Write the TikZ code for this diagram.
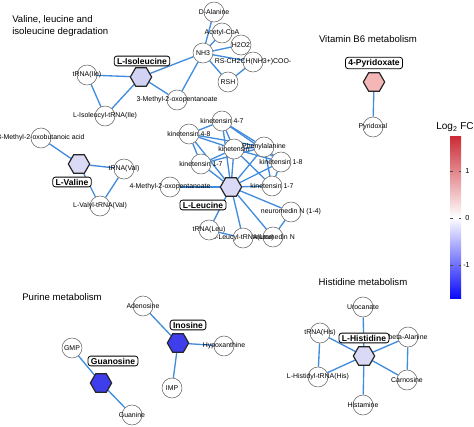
\documentclass[tikz,border=0pt]{standalone}
\usepackage{fontspec}
\setmainfont{Liberation Sans}
\usetikzlibrary{shapes.geometric,backgrounds}
\definecolor{edgeblue}{RGB}{66,140,222}
\definecolor{lav}{RGB}{218,218,247}
\definecolor{lavb}{RGB}{210,210,245}
\definecolor{pinkfc}{RGB}{245,182,182}
\definecolor{bluefc}{RGB}{62,62,236}
\definecolor{barred}{RGB}{205,45,55}
\definecolor{barblue}{RGB}{10,10,250}
\tikzset{
  met/.style={circle,draw=black!60,line width=0.4pt,fill=white,minimum size=15pt,inner sep=0pt},
  mlab/.style={font=\fontsize{5.2}{6}\selectfont,inner sep=0pt},
  hexn/.style={regular polygon,regular polygon sides=6,draw=black!85,line width=0.9pt,minimum size=16pt,inner sep=0pt},
  namebox/.style={draw=black,line width=0.6pt,rounded corners=2pt,fill=white,font=\fontsize{6.4}{7}\selectfont\bfseries,inner xsep=2.2pt,inner ysep=1.3pt},
  ttl/.style={font=\fontsize{7.2}{9}\selectfont,align=left,inner sep=0pt},
  link/.style={draw=edgeblue,line width=1pt},
  ticklab/.style={font=\fontsize{5.5}{6}\selectfont,inner sep=0pt,anchor=west},
}
\begin{document}
\begin{tikzpicture}[x=0.75pt,y=-0.75pt]
\useasboundingbox (0,0) rectangle (474,427);
% titles
\node[ttl,anchor=west] (t1) at (12,26) {Valine, leucine and\\isoleucine degradation};
\node[ttl] (t2) at (368,39) {Vitamin B6 metabolism};
\node[ttl,anchor=west] (t3) at (22,297) {Purine metabolism};
\node[ttl] (t4) at (363,282) {Histidine metabolism};

% ---------- isoleucine ----------
\node[hexn,fill=lavb] (ile) at (141,77) {};
\node[namebox] (ileb) at (142,61) {L-Isoleucine};
\node[met,label={[mlab]center:tRNA(Ile)}] (tile) at (87,75) {};
\node[met,label={[mlab]center:L-Isoleucyl-tRNA(Ile)}] (ilet) at (105,116) {};
\node[met,label={[mlab]center:3-Methyl-2-oxopentanoate}] (mop) at (177,100) {};
\node[met,label={[mlab]center:NH3}] (nh3) at (203,53) {};
\node[met,label={[mlab]center:D-Alanine}] (dala) at (214,12) {};
\node[met,label={[mlab]center:Acetyl-CoA}] (acoa) at (222,33) {};
\node[met,label={[mlab]center:H2O2}] (hoo) at (241,45) {};
\node[met,label={[mlab]center:RS-CH2CH(NH3+)COO-}] (rs) at (253,62) {};
\node[met,label={[mlab]center:RSH}] (rsh) at (228,82) {};

% ---------- valine ----------
\node[hexn,fill=lav] (val) at (79,164) {};
\node[met,label={[mlab]center:3-Methyl-2-oxobutanoic acid}] (mob) at (41,138) {};
\node[met,label={[mlab]center:tRNA(Val)}] (tval) at (124,169) {};
\node[met,label={[mlab]center:L-Valyl-tRNA(Val)}] (valt) at (100,206) {};
\node[namebox] (valb) at (72,182) {L-Valine};

% ---------- leucine ----------
\node[hexn,fill=lav] (leu) at (231,187) {};
\node[met,label={[mlab]center:4-Methyl-2-oxopentanoate}] (mop4) at (170,187) {};
\node[met,label={[mlab]center:kinetensin 4-7}] (k47) at (222,121) {};
\node[met,label={[mlab]center:kinetensin 4-8}] (k48) at (189,134) {};
\node[met,label={[mlab]center:kinetensin}] (kin) at (234,149) {};
\node[met,label={[mlab]center:Phenylalanine}] (phe) at (264,147) {};
\node[met,label={[mlab]center:kinetensin 1-8}] (k18) at (281,162) {};
\node[met,label={[mlab]center:kinetensin 1-7}] (k17a) at (201,164) {};
\node[met,label={[mlab]center:kinetensin 1-7}] (k17b) at (272,186) {};
\node[met,label={[mlab]center:neuromedin N (1-4)}] (nn14) at (291,212) {};
\node[met,label={[mlab]center:neuromedin N}] (nn) at (273,237) {};
\node[met,label={[mlab]center:L-Leucyl-tRNA(Leu)}] (leut) at (243,238) {};
\node[met,label={[mlab]center:tRNA(Leu)}] (tleu) at (209,230) {};
\node[namebox] (leub) at (203,205) {L-Leucine};

% ---------- vitamin B6 ----------
\node[namebox] (pyxb) at (374,63) {4-Pyridoxate};
\node[hexn,fill=pinkfc] (pyx) at (374,82) {};
\node[met,label={[mlab]center:Pyridoxal}] (pyr) at (373,127) {};

% ---------- purine ----------
\node[met,label={[mlab]center:Adenosine}] (ado) at (143,306) {};
\node[hexn,fill=bluefc] (ino) at (178,343) {};
\node[namebox] (inob) at (188,325) {Inosine};
\node[met,label={[mlab]center:Hypoxanthine}] (hyp) at (224,346) {};
\node[met,label={[mlab]center:IMP}] (imp) at (172,388) {};
\node[met,label={[mlab]center:GMP}] (gmp) at (72,348) {};
\node[namebox] (guab) at (113,361) {Guanosine};
\node[hexn,fill=bluefc] (gua) at (101,383) {};
\node[met,label={[mlab]center:Guanine}] (guan) at (132,415) {};

% ---------- histidine ----------
\node[met,label={[mlab]center:Urocanate}] (uro) at (363,307) {};
\node[hexn,fill=lav] (his) at (364,356) {};
\node[namebox] (hisb) at (364,338) {L-Histidine};
\node[met,label={[mlab]center:tRNA(His)}] (this) at (320,333) {};
\node[met,label={[mlab]center:beta-Alanine}] (bala) at (408,337) {};
\node[met,label={[mlab]center:L-Histidyl-tRNA(His)}] (hist) at (318,377) {};
\node[met,label={[mlab]center:Carnosine}] (carn) at (407,380) {};
\node[met,label={[mlab]center:Histamine}] (hsm) at (363,405) {};

% ---------- colour bar ----------
\shade[top color=barred,bottom color=barblue,middle color=white] (450,137) rectangle (461,298);
\foreach \yy in {171,218,265}{
  \draw[black!70,line width=0.6pt] (450,\yy) -- (452.5,\yy);
  \draw[black!70,line width=0.6pt] (458.5,\yy) -- (461,\yy);
}
\node[font=\fontsize{7.5}{8}\selectfont,inner sep=0pt] (lfc) at (455,127) {Log\textsubscript{2} FC};
\node[ticklab] (tk1) at (465,171) {1};
\node[ticklab] (tk0) at (465,218) {0};
\node[ticklab] (tkm) at (463,265) {-1};

% ---------- edges ----------
\begin{scope}[on background layer]
\draw[link] (ile) -- (tile);
\draw[link] (ile) -- (ilet);
\draw[link] (ile) -- (mop);
\draw[link] (ile) -- (nh3);
\draw[link] (tile) -- (ilet);
\draw[link] (nh3) -- (mop);
\draw[link] (nh3) -- (dala);
\draw[link] (nh3) -- (acoa);
\draw[link] (nh3) -- (hoo);
\draw[link] (nh3) -- (rs);
\draw[link] (nh3) -- (rsh);
\draw[link] (rsh) -- (rs);

\draw[link] (val) -- (mob);
\draw[link] (val) -- (tval);
\draw[link] (val) -- (valt);
\draw[link] (tval) -- (valt);

\foreach \n in {mop4,k47,k48,kin,phe,k18,k17a,k17b,nn14,nn,leut,tleu}
  \draw[link] (leu) -- (\n);
\draw[link] (k47) -- (k48);
\draw[link] (k47) -- (kin);
\draw[link] (k47) -- (phe);
\draw[link] (k47) -- (k18);
\draw[link] (k48) -- (kin);
\draw[link] (k48) -- (k17a);
\draw[link] (k48) -- (phe);
\draw[link] (kin) -- (k17a);
\draw[link] (kin) -- (phe);
\draw[link] (kin) -- (k18);
\draw[link] (kin) -- (k17b);
\draw[link] (phe) -- (k17a);
\draw[link] (phe) -- (k18);
\draw[link] (phe) -- (k17b);
\draw[link] (k18) -- (k17b);
\draw[link] (tleu) -- (leut);
\draw[link] (nn14) -- (nn);

\draw[link] (pyx) -- (pyr);

\draw[link] (ino) -- (ado);
\draw[link] (ino) -- (hyp);
\draw[link] (ino) -- (imp);
\draw[link] (gua) -- (gmp);
\draw[link] (gua) -- (guan);

\foreach \n in {uro,this,bala,hist,carn,hsm}
  \draw[link] (his) -- (\n);
\draw[link] (this) -- (hist);
\draw[link] (bala) -- (carn);
\end{scope}
\end{tikzpicture}
\end{document}
